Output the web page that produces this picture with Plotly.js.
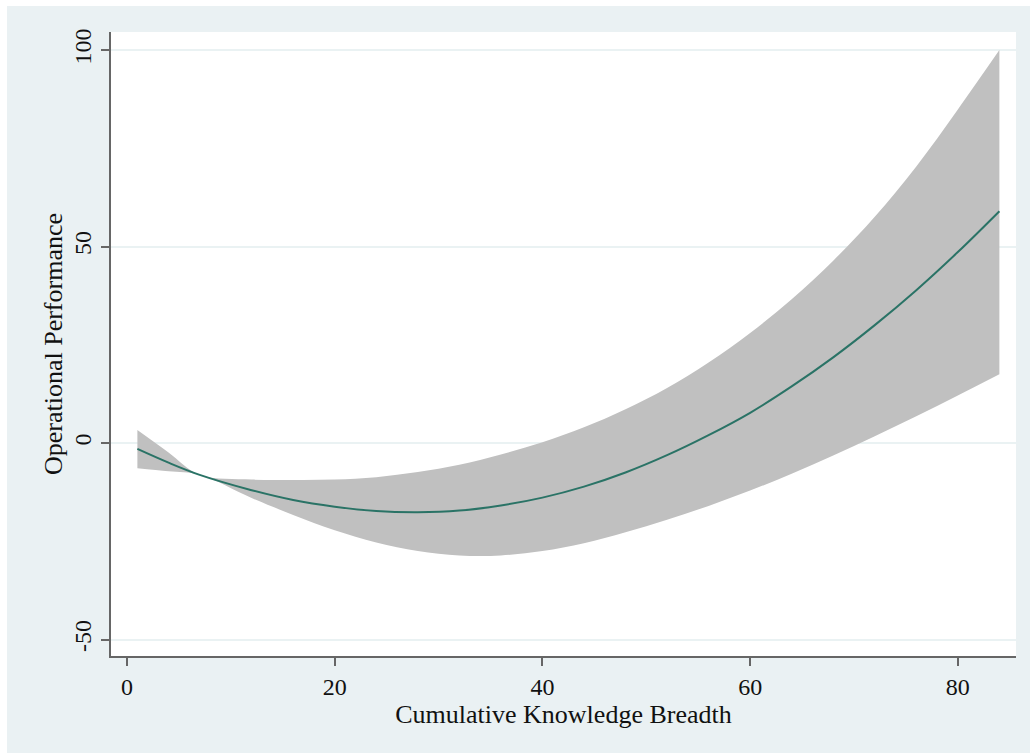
<!DOCTYPE html>
<html>
<head>
<meta charset="utf-8">
<script src="https://cdn.plot.ly/plotly-3.0.1.min.js"></script>
<style>
html,body{margin:0;padding:0;background:#ffffff;width:1030px;height:753px;overflow:hidden;}
#chart{position:absolute;left:7px;top:6px;width:1023px;height:747px;}
</style>
</head>
<body>
<div id="chart"></div>
<script>
// Cumulative Knowledge Breadth values
const breadth = [1, 4, 7, 12, 16, 20, 24, 28, 32, 36, 40, 44, 48, 52, 56, 60, 64, 68, 72, 76, 80, 84];
// Predicted operational performance
const predicted = [-1.5, -5.0, -8.1, -12.0, -14.5, -16.2, -17.3, -17.6, -17.2, -15.9, -13.9, -11.1, -7.5, -3.1, 2.0, 7.7, 14.4, 21.8, 30.0, 38.9, 48.6, 59.0];
// Upper and lower confidence bounds
const upperCI = [3.3, -2.4, -8.1, -9.3, -9.4, -9.3, -8.7, -7.4, -5.5, -2.9, 0.2, 4.0, 8.6, 14.0, 20.5, 28.0, 36.6, 46.4, 57.6, 70.4, 84.9, 100.0];
const lowerCI = [-6.4, -7.2, -8.1, -14.0, -18.3, -22.2, -25.3, -27.5, -28.6, -28.6, -27.5, -25.5, -22.7, -19.5, -16.0, -12.1, -7.8, -3.2, 1.7, 6.8, 12.1, 17.5];
// Tick values
const xTicks = [0, 20, 40, 60, 80];
const yTicks = [-50, 0, 50, 100];

const font = "'Liberation Serif', 'Times New Roman', serif";

const traces = [
  {x: breadth, y: lowerCI, type: 'scatter', mode: 'lines',
   line: {width: 0, color: '#c0c0c0', shape: 'spline', smoothing: 1},
   hoverinfo: 'skip', showlegend: false},
  {x: breadth, y: upperCI, type: 'scatter', mode: 'lines', fill: 'tonexty',
   fillcolor: '#c0c0c0', line: {width: 0, color: '#c0c0c0', shape: 'spline', smoothing: 1},
   hoverinfo: 'skip', showlegend: false},
  {x: breadth, y: predicted, type: 'scatter', mode: 'lines',
   line: {width: 2, color: '#2a7366', shape: 'spline', smoothing: 1},
   showlegend: false}
];

const layout = {
  width: 1023, height: 747,
  paper_bgcolor: '#eaf1f3',
  plot_bgcolor: '#ffffff',
  margin: {l: 104, r: 14, t: 26, b: 97},
  font: {family: font, color: '#111111', size: 24},
  showlegend: false,
  xaxis: {
    range: [-1.54, 85.6],
    tickvals: xTicks, ticktext: xTicks.map(String),
    showgrid: false, zeroline: false,
    showline: true, linecolor: '#666666', linewidth: 2,
    ticks: 'outside', ticklen: 8, tickwidth: 2, tickcolor: '#666666',
    tickfont: {family: font, size: 24, color: '#111111'},
    title: {text: 'Cumulative Knowledge Breadth', font: {family: font, size: 26, color: '#111111'}, standoff: 2}
  },
  yaxis: {
    range: [-54.2, 104.6],
    tickvals: yTicks, ticktext: yTicks.map(String),
    tickangle: -90,
    showgrid: true, gridcolor: '#eaf2f3', gridwidth: 2,
    zeroline: false,
    showline: true, linecolor: '#666666', linewidth: 2,
    ticks: 'outside', ticklen: 8, tickwidth: 2, tickcolor: '#666666',
    tickfont: {family: font, size: 24, color: '#111111'},
    title: {text: 'Operational Performance', font: {family: font, size: 26, color: '#111111'}, standoff: 0}
  }
};

Plotly.newPlot('chart', traces, layout, {displayModeBar: false, staticPlot: true});
</script>
</body>
</html>
